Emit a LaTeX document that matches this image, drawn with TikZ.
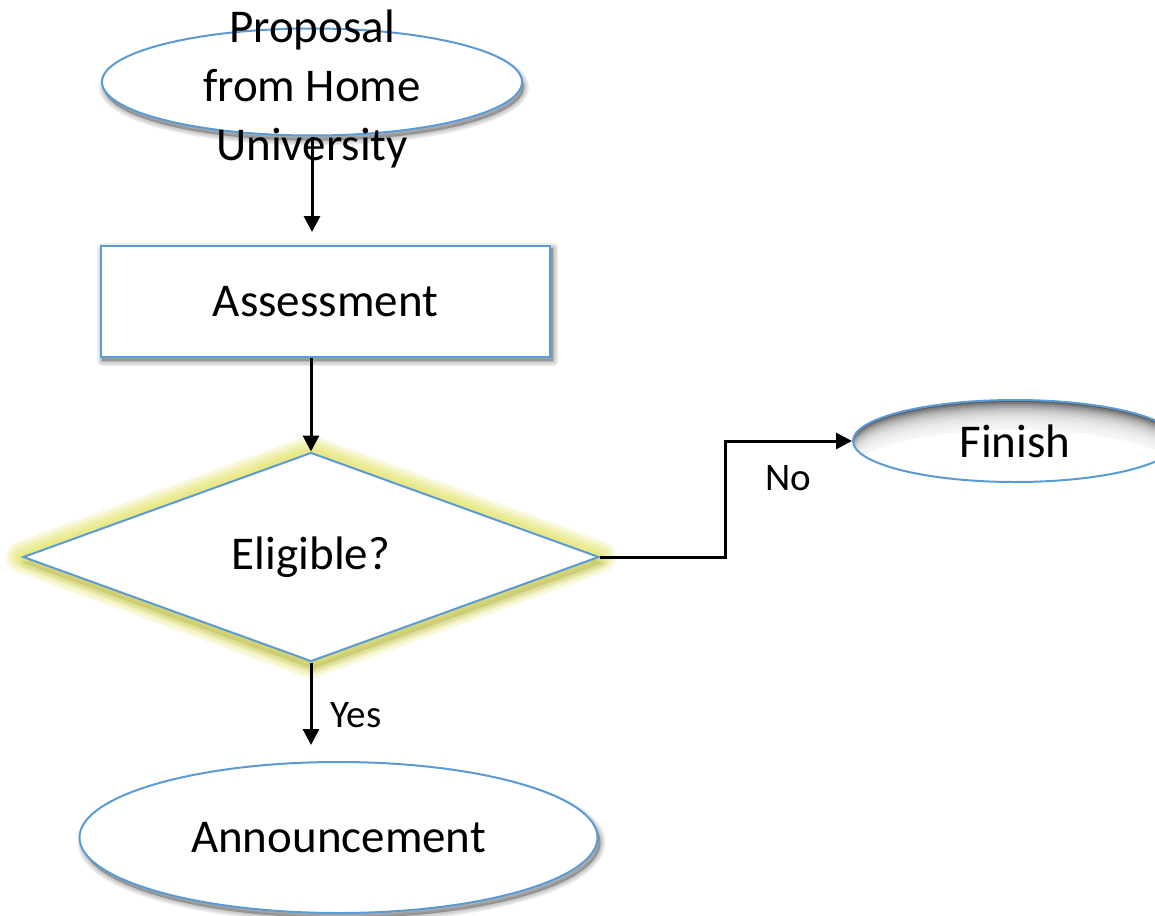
\documentclass[tikz,border=0pt]{standalone}
\usepackage{fontspec}
\setmainfont{Carlito}
\usetikzlibrary{shapes.geometric,arrows.meta}
\definecolor{obl}{RGB}{91,155,213}
\definecolor{glowc}{RGB}{220,220,60}
\pgfdeclarelayer{bg}
\pgfdeclarelayer{glow}
\pgfsetlayers{bg,glow,main}
\tikzset{
  shp/.style={draw=obl, line width=1pt, inner sep=0pt},
  arr/.style={line width=1.5pt, -{Triangle[length=8pt,width=8pt]}},
  lbl/.style={font=\fontsize{19.5}{23}\selectfont, inner sep=0pt},
  glowline/.style={draw=glowc, line join=round, opacity=0.16},
  shadowpart/.style={fill=black, draw=black, opacity=0.07, line join=round}
}
\begin{document}
\begin{tikzpicture}[x=0.5pt,y=-0.5pt, font=\fontsize{23.5}{29.3}\selectfont]
\begin{pgfonlayer}{bg}
\fill[white] (0,0) rectangle (1155,915);
\end{pgfonlayer}
\useasboundingbox (0,0) rectangle (1155,915);
\clip (0,0) rectangle (1155,915);

% nodes
\node[shp, fill=white, ellipse, minimum width=210pt, minimum height=53.5pt] (prop) at (312,82) {};
\node[align=center, inner sep=0pt] (proptxt) at (312,89) {Proposal\\from Home\\University};
\node[shp, fill=white, rectangle, minimum width=224.5pt, minimum height=55.5pt] (assess) at (325.5,301.5) {Assessment};
\node[shp, fill=white, diamond, minimum width=288pt, minimum height=104.5pt] (diam) at (311,557) {Eligible?};
\node[shp, ellipse, minimum width=162pt, minimum height=41pt] (fin) at (1015,441) {};
\node[inner sep=0pt] (fintxt) at (1015,441) {Finish};
\node[shp, fill=white, ellipse, minimum width=259pt, minimum height=75.5pt] (ann) at (338.5,837.5) {Announcement};

\begin{pgfonlayer}{glow}
% soft shadows
\foreach \w in {5,3.5,2,0.5} {
  \path[shadowpart, line width=\w pt] ([shift={(1pt,-2.5pt)}]prop.center) ellipse [x radius=105pt, y radius=26.75pt];
  \path[shadowpart, line width=\w pt] ([shift={(1.5pt,-2.5pt)}]ann.center) ellipse [x radius=129.5pt, y radius=37.75pt];
  \path[shadowpart, line width=\w pt] ([shift={(1.2pt,-1.5pt)}]assess.south west) rectangle ([shift={(1.2pt,-1.5pt)}]assess.north east);
  \path[shadowpart, line width=\w pt, opacity=0.04] ([shift={(1pt,-3pt)}]diam.north) -- ([shift={(1pt,-3pt)}]diam.east) -- ([shift={(1pt,-3pt)}]diam.south) -- ([shift={(1pt,-3pt)}]diam.west) -- cycle;
}
% glow around diamond
\foreach \w in {16,13,10,7,4} {
  \draw[glowline, line width=\w pt] (diam.north) -- (diam.east) -- (diam.south) -- (diam.west) -- cycle;
}
% inner shadow of Finish ellipse
\begin{scope}
\clip (fin.center) ellipse [x radius=81pt, y radius=20.5pt];
\fill[black!65] (fin.center) ellipse [x radius=81pt, y radius=20.5pt];
\foreach \s in {1,2,...,14} {
  \fill[white, opacity=0.2] ([yshift=-\s pt]fin.center) ellipse [x radius=81pt, y radius=20.5pt];
}
\fill[white] ([yshift=-15pt]fin.center) ellipse [x radius=81pt, y radius=20.5pt];
\end{scope}
\end{pgfonlayer}

% connectors
\coordinate (bend) at (725,500);
\draw[arr, shorten >=6.5pt] (prop.south) -- (prop.south |- assess.north);
\draw[arr] (assess.south -| diam.north) -- (diam.north);
\draw[arr] (diam.east) -- (diam.east -| bend) |- (fin.west);
\draw[arr, shorten >=8pt] (diam.south) -- (diam.south |- ann.north);

% labels
\node[lbl] (no) at (788,478) {No};
\node[lbl] (yes) at (356,715) {Yes};
\end{tikzpicture}
\end{document}
